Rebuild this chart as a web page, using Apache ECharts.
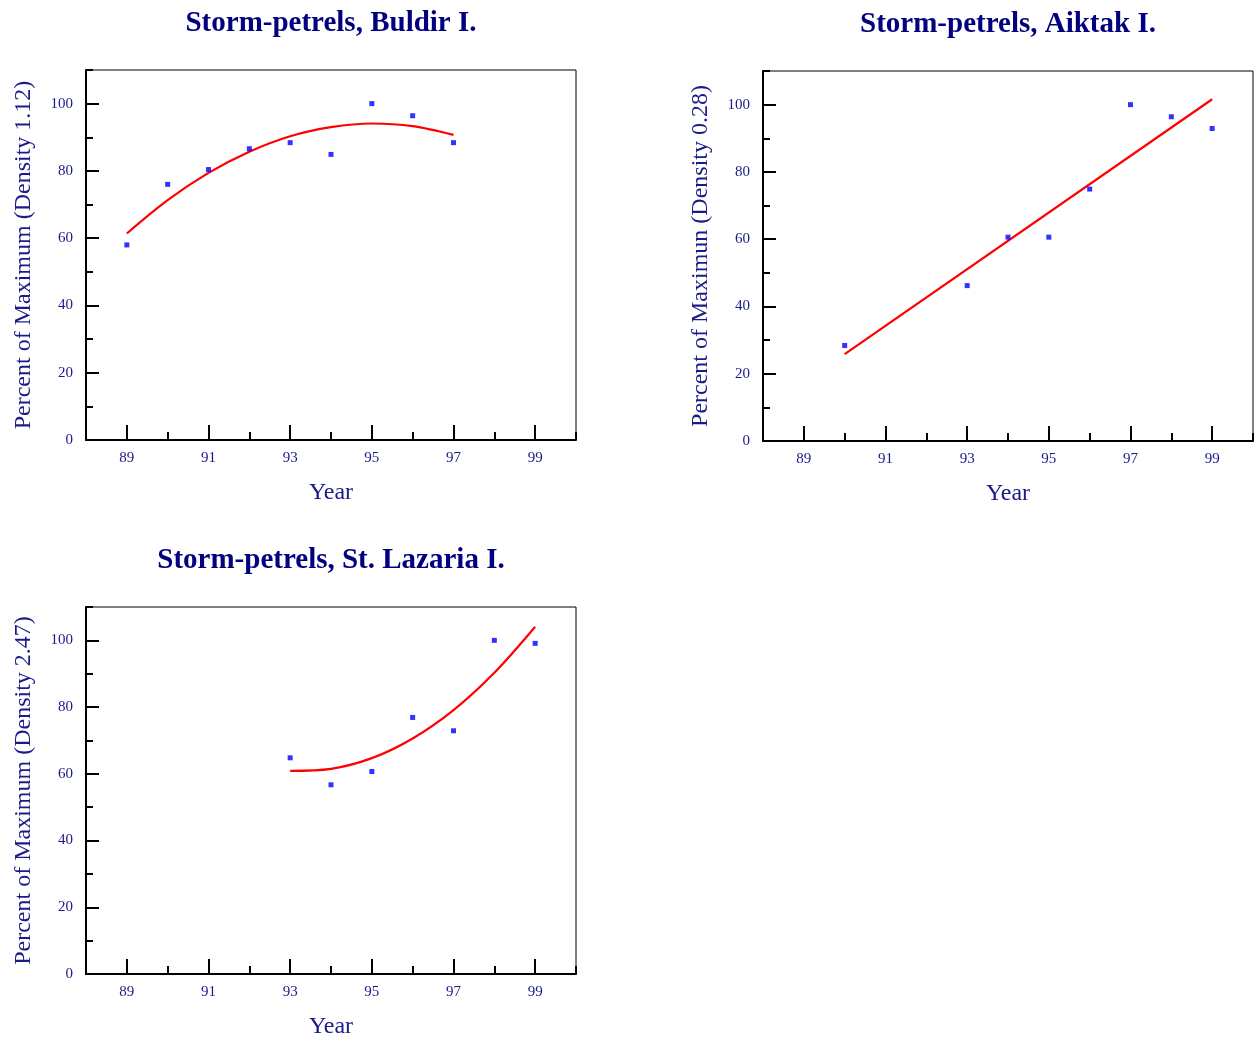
<!DOCTYPE html>
<html>
<head>
<meta charset="utf-8">
<title>Storm-petrels</title>
<script src="https://cdn.jsdelivr.net/npm/echarts@6/dist/echarts.min.js"></script>
<style>
  html, body { margin: 0; padding: 0; background: #ffffff; }
  #chart { width: 1254px; height: 1040px; }
</style>
</head>
<body>
<div id="chart"></div>
<script>
// Tick labels shared by all panels
const yearTickLabels = [89, 91, 93, 95, 97, 99];
const yearMinorTicks = [88, 89, 90, 91, 92, 93, 94, 95, 96, 97, 98, 99, 100];
const percentTickLabels = [0, 20, 40, 60, 80, 100];
const percentMinorTicks = [0, 10, 20, 30, 40, 50, 60, 70, 80, 90, 100, 110];

// Buldir I.
const buldirYears = [89, 90, 91, 92, 93, 94, 95, 96, 97];
const buldirPercent = [58.0, 76.0, 80.4, 86.6, 88.4, 84.9, 100, 96.4, 88.4];
const buldirTrend = [61.4, 71.3, 79.4, 85.7, 90.3, 93.0, 94.1, 93.3, 90.7];

// Aiktak I.
const aiktakYears = [90, 93, 94, 95, 96, 97, 98, 99];
const aiktakPercent = [28.4, 46.2, 60.6, 60.6, 74.9, 100, 96.4, 92.9];
const aiktakTrendYears = [90, 99];
const aiktakTrend = [25.8, 101.6];

// St. Lazaria I.
const lazariaYears = [93, 94, 95, 96, 97, 98, 99];
const lazariaPercent = [64.8, 56.7, 60.7, 76.9, 72.9, 100, 99.1];
const lazariaTrend = [60.9, 61.5, 64.7, 70.6, 79.1, 90.3, 104.1];

const panels = [
  { title: 'Storm-petrels, Buldir I.', yName: 'Percent of Maximum (Density 1.12)',
    left: 86, top: 70, years: buldirYears, values: buldirPercent,
    trendYears: buldirYears, trend: buldirTrend },
  { title: 'Storm-petrels, Aiktak I.', yName: 'Percent of Maximun (Density 0.28)',
    left: 763, top: 71, years: aiktakYears, values: aiktakPercent,
    trendYears: aiktakTrendYears, trend: aiktakTrend },
  { title: 'Storm-petrels, St. Lazaria I.', yName: 'Percent of Maximum (Density 2.47)',
    left: 86, top: 607, years: lazariaYears, values: lazariaPercent,
    trendYears: lazariaYears, trend: lazariaTrend }
];

const GRID_W = 490, GRID_H = 370;
const NAVY = '#000080';
const LABEL = '#1a1a88';
const FONT = '"Liberation Serif", "Times New Roman", serif';

const option = {
  backgroundColor: '#ffffff',
  animation: false,
  graphic: [], grid: [], xAxis: [], yAxis: [], series: []
};

const tickStyle = { color: '#000', width: 2 };

panels.forEach((p, i) => {
  // panel heading, centred over its plot frame
  option.graphic.push({
    type: 'text',
    x: p.left + GRID_W / 2, y: p.top - 46,
    style: {
      text: p.title, fill: NAVY,
      font: 'bold 29px ' + FONT,
      textAlign: 'center', textVerticalAlign: 'middle'
    }
  });
  option.grid.push({
    left: p.left, top: p.top, width: GRID_W, height: GRID_H,
    show: true, borderColor: '#000', borderWidth: 1, backgroundColor: 'transparent'
  });
  const base = { type: 'value', gridIndex: i, min: 88, max: 100, position: 'bottom',
    splitLine: { show: false } };
  // year axis: short ticks each year, labels at odd years
  option.xAxis.push(Object.assign({}, base, {
    name: 'Year', nameLocation: 'middle', nameGap: 41,
    nameTextStyle: { fontFamily: FONT, fontSize: 24, color: LABEL },
    axisLine: { show: true, lineStyle: { color: '#000', width: 2 } },
    axisTick: { show: true, inside: true, length: 8, customValues: yearMinorTicks,
      lineStyle: tickStyle },
    axisLabel: { customValues: yearTickLabels, margin: 11,
      fontFamily: FONT, fontSize: 15, color: LABEL }
  }));
  // long ticks at the labelled years
  option.xAxis.push(Object.assign({}, base, {
    axisLine: { show: false },
    axisTick: { show: true, inside: true, length: 15, customValues: yearTickLabels,
      lineStyle: tickStyle },
    axisLabel: { show: false }
  }));
  const ybase = { type: 'value', gridIndex: i, min: 0, max: 110, position: 'left',
    splitLine: { show: false } };
  option.yAxis.push(Object.assign({}, ybase, {
    name: p.yName, nameLocation: 'middle', nameGap: 50,
    nameTextStyle: { fontFamily: FONT, fontSize: 24, color: LABEL },
    axisLine: { show: true, lineStyle: { color: '#000', width: 2 } },
    axisTick: { show: true, inside: true, length: 7, customValues: percentMinorTicks,
      lineStyle: tickStyle },
    axisLabel: { customValues: percentTickLabels, margin: 13,
      fontFamily: FONT, fontSize: 15, color: LABEL }
  }));
  option.yAxis.push(Object.assign({}, ybase, {
    axisLine: { show: false },
    axisTick: { show: true, inside: true, length: 13, customValues: percentTickLabels,
      lineStyle: tickStyle },
    axisLabel: { show: false }
  }));

  // fitted trend
  option.series.push({
    type: 'line', xAxisIndex: 2 * i, yAxisIndex: 2 * i,
    data: p.trendYears.map((y, k) => [y, p.trend[k]]),
    smooth: 0.333, showSymbol: false, symbol: 'none',
    lineStyle: { color: '#ff0000', width: 2.2 }, z: 3
  });
  // observed values
  option.series.push({
    type: 'scatter', xAxisIndex: 2 * i, yAxisIndex: 2 * i,
    data: p.years.map((y, k) => [y, p.values[k]]),
    symbol: 'rect', symbolSize: 5,
    itemStyle: { color: '#0000ff' }, z: 4
  });
});

const chart = echarts.init(document.getElementById('chart'), null, { renderer: 'canvas' });
chart.setOption(option);
</script>
</body>
</html>
